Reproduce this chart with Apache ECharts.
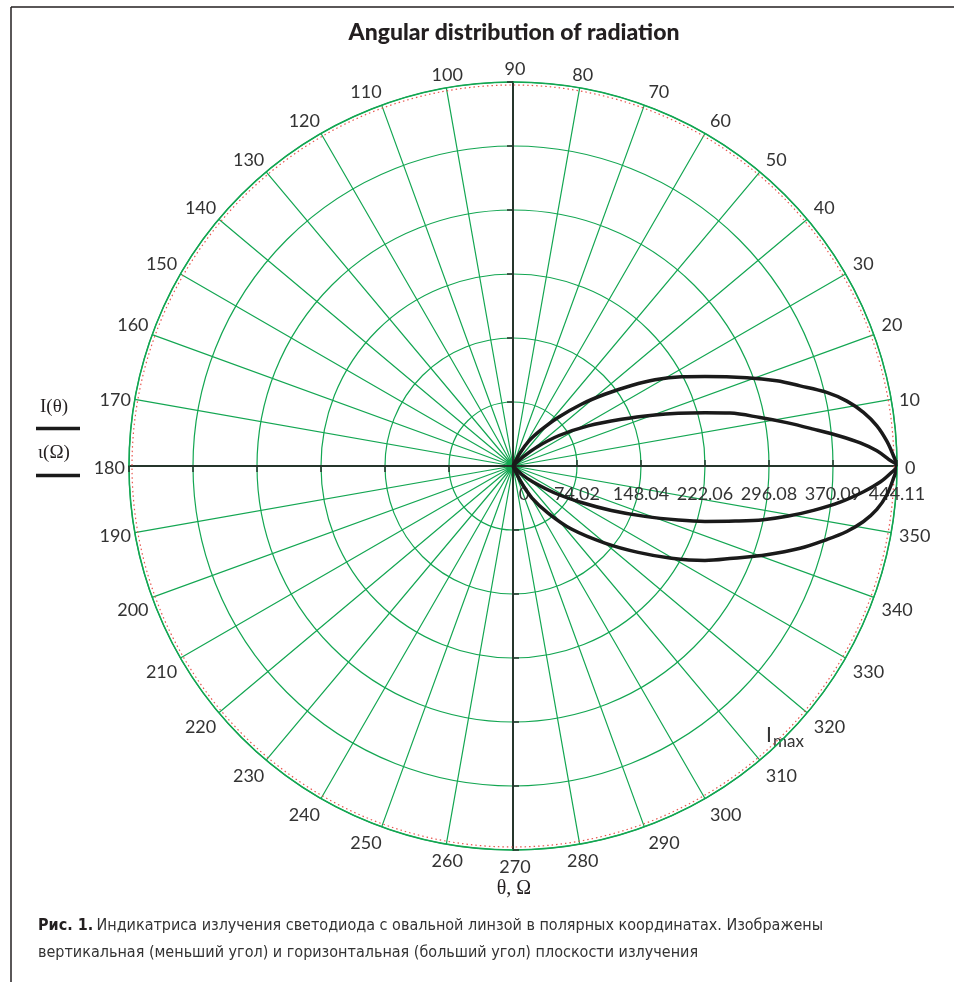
<!DOCTYPE html>
<html>
<head>
<meta charset="utf-8">
<script src="https://cdn.jsdelivr.net/npm/echarts@6/dist/echarts.min.js"></script>
<style>
  html, body { margin: 0; padding: 0; background: #ffffff; }
  #chart { width: 954px; height: 982px; }
</style>
</head>
<body>
<div id="chart"></div>
<script>
// Radial scale labels (intensity) and angular labels (degrees)
const radiusTickLabels = ['0', '74.02', '148.04', '222.06', '296.08', '370.09', '444.11'];
const angleTickLabels = ['0', '10', '20', '30', '40', '50', '60', '70', '80', '90',
  '100', '110', '120', '130', '140', '150', '160', '170', '180', '190',
  '200', '210', '220', '230', '240', '250', '260', '270', '280', '290',
  '300', '310', '320', '330', '340', '350'];

// Horizontal plane of emission (wider lobe): angle in degrees, intensity
const horizAngles = [-64.5, -63.4, -59.3, -53.3, -47.2, -40.0, -34.6, -30.2, -26.2, -22.7,
  -19.3, -16.0, -13.2, -11.1, -9.0, -6.8, -4.4, -1.8, 0, 1.5, 3.8, 6.3, 8.7, 11.0, 13.2,
  15.6, 17.9, 20.7, 25.0, 27.9, 31.3, 34.2, 38.0, 42.1, 47.1, 52.1, 57.4, 61.7, 62.5];
const horizValues = [0, 20.7, 43.1, 67.9, 99.4, 138.7, 175.9, 212.1, 247.4, 276.2,
  310.8, 345.4, 372.7, 393.4, 410.4, 423.8, 433.7, 440.4, 444.11, 440.3, 433.3, 423.4, 410.0, 393.4, 372.7,
  344.7, 320.5, 289.0, 245.0, 220.5, 192.1, 165.7, 134.8, 106.6, 76.6, 52.8, 34.4, 17.1, 0];

// Vertical plane of emission (narrower lobe)
const vertAngles = [-44.5, -43.4, -38.7, -32.9, -28.1, -24.3, -20.9, -18.1, -16.1, -13.9,
  -12.1, -10.3, -8.4, -6.3, -4.2, -2.5, -1.1, 0, 1.0, 2.4, 3.8, 5.2, 7.0, 9.0, 11.1, 13.7,
  15.5, 17.7, 19.8, 23.3, 28.1, 33.5, 38.4, 42.0, 43.0];
const vertValues = [0, 14.3, 29.7, 57.5, 89.7, 124.9, 163.3, 201.1, 231.1, 264.9,
  296.1, 323.7, 351.3, 380.7, 406.5, 425.1, 436.8, 444.11, 434.5, 421.2, 402.5, 380.0, 350.0, 320.5, 291.2, 258.3,
  230.5, 200.6, 174.4, 136.6, 98.5, 63.9, 35.5, 15.6, 0];

const GREEN = '#13a652';
const AXIS_DARK = '#25352b';
const TEXT = '#333333';
const CENTER = [513, 466];
const LABEL_CENTER = [515, 468];
const R = 384;
const R_MAX = 444.108;
const R_STEP = 74.018;

const chart = echarts.init(document.getElementById('chart'), null, { renderer: 'canvas' });

const polar = [];
const angleAxis = [];
const radiusAxis = [];

// Main grid: circles, spokes and the radial scale
polar.push({ center: CENTER, radius: R });
angleAxis.push({
  polarIndex: 0, type: 'value', startAngle: 0, clockwise: false,
  min: 0, max: 360, interval: 10,
  axisLine: { show: true, lineStyle: { color: GREEN, width: 1.5 } },
  axisTick: { show: false },
  splitLine: { show: true, lineStyle: { color: GREEN, width: 1.2 } },
  axisLabel: { show: false }
});
radiusAxis.push({
  polarIndex: 0, type: 'value', min: 0, max: R_MAX, interval: R_STEP,
  axisLine: { show: true, lineStyle: { color: AXIS_DARK, width: 2 } },
  axisTick: { show: true, length: 6, lineStyle: { color: AXIS_DARK, width: 1.5 } },
  splitLine: { show: true, lineStyle: { color: GREEN, width: 1.2 } },
  axisLabel: {
    show: true, margin: -19, verticalAlign: 'top', fontFamily: 'Lato', fontSize: 18, color: TEXT,
    formatter: (v, i) => (i === 0 ? '{z|0}' : (radiusTickLabels[i] || '')),
    rich: { z: { fontFamily: 'Lato', fontSize: 18, color: TEXT, padding: [0, 0, 0, 22] } }
  }
});

// Dark diameters with ticks crossing on both sides, along 0/90/180/270 degrees
const dirs = [0, 90, 180, 270];
dirs.forEach(a => {
  [false, true].forEach(inside => {
    if (a === 0 && !inside) return; // drawn by the main axis
    const idx = polar.length;
    polar.push({ center: CENTER, radius: R });
    angleAxis.push({
      polarIndex: idx, type: 'value', startAngle: a, clockwise: false,
      min: 0, max: 360, show: false
    });
    radiusAxis.push({
      polarIndex: idx, type: 'value', min: 0, max: R_MAX, interval: R_STEP,
      axisLine: { show: true, lineStyle: { color: AXIS_DARK, width: 2 } },
      axisTick: { show: true, inside: inside, length: 6, lineStyle: { color: AXIS_DARK, width: 1.5 } },
      splitLine: { show: false },
      axisLabel: { show: false }
    });
  });
});

// Degree labels around the rim
const lblIdx = polar.length;
polar.push({ center: LABEL_CENTER, radius: R });
angleAxis.push({
  polarIndex: lblIdx, type: 'value', startAngle: 0, clockwise: false,
  min: 0, max: 360, interval: 10,
  axisLine: { show: false }, axisTick: { show: false }, splitLine: { show: false },
  axisLabel: {
    show: true, margin: 6,
    fontFamily: 'Lato', fontSize: 18, color: TEXT,
    formatter: v => angleTickLabels[Math.round(v / 10)] || ''
  }
});
radiusAxis.push({ polarIndex: lblIdx, type: 'value', min: 0, max: R_MAX, show: false });

// Thin red dotted rim just inside the outer circle
const rimIdx = polar.length;
polar.push({ center: CENTER, radius: R - 3 });
angleAxis.push({
  polarIndex: rimIdx, type: 'value', startAngle: 0, clockwise: false, min: 0, max: 360,
  axisLine: { show: true, lineStyle: { color: '#e8554e', width: 1.2, type: [1.5, 3] } },
  axisTick: { show: false }, axisLabel: { show: false }, splitLine: { show: false }
});
radiusAxis.push({ polarIndex: rimIdx, type: 'value', min: 0, max: R_MAX, show: false });

const toPolar = (vals, angs) => vals.map((v, i) => [v, angs[i]]);

const option = {
  backgroundColor: '#ffffff',
  animation: false,
  polar, angleAxis, radiusAxis,
  series: [
    {
      name: 'I(θ)', type: 'line', coordinateSystem: 'polar', polarIndex: 0,
      data: toPolar(horizValues, horizAngles), symbol: 'none', smooth: 0.35,
      lineStyle: { color: '#1a1a1a', width: 3.5 }, z: 10
    },
    {
      name: 'ι(Ω)', type: 'line', coordinateSystem: 'polar', polarIndex: 0,
      data: toPolar(vertValues, vertAngles), symbol: 'none', smooth: 0.35,
      lineStyle: { color: '#1a1a1a', width: 3.5 }, z: 10
    }
  ],
  graphic: [
    // frame
    { type: 'line', shape: { x1: 11, y1: 7, x2: 11, y2: 982 }, style: { stroke: '#231f20', lineWidth: 1.5 } },
    { type: 'line', shape: { x1: 11, y1: 7, x2: 954, y2: 7 }, style: { stroke: '#231f20', lineWidth: 1.5 } },
    // title
    { type: 'text', x: 514, y: 33, style: {
        text: 'Angular distribution of radiation', textAlign: 'center', textVerticalAlign: 'middle',
        font: '900 23px Lato', fill: '#231f20' } },
    // curve keys on the left
    { type: 'text', x: 40, y: 407, style: {
        text: 'I(θ)', textAlign: 'left', textVerticalAlign: 'middle',
        font: '19px "Liberation Serif"', fill: '#231f20' } },
    { type: 'line', shape: { x1: 36, y1: 428.5, x2: 80, y2: 428.5 }, style: { stroke: '#1a1a1a', lineWidth: 3.5 } },
    { type: 'text', x: 38, y: 453, style: {
        text: 'ι(Ω)', textAlign: 'left', textVerticalAlign: 'middle',
        font: '19px "Liberation Serif"', fill: '#231f20' } },
    { type: 'line', shape: { x1: 36, y1: 475.5, x2: 80, y2: 475.5 }, style: { stroke: '#1a1a1a', lineWidth: 3.5 } },
    // I max marker
    { type: 'text', x: 766, y: 735, style: {
        text: 'I', textAlign: 'left', textVerticalAlign: 'middle',
        font: '21px Lato', fill: TEXT } },
    { type: 'text', x: 773, y: 742, style: {
        text: 'max', textAlign: 'left', textVerticalAlign: 'middle',
        font: '17px Lato', fill: TEXT } },
    // angular axis name
    { type: 'text', x: 514, y: 889, style: {
        text: 'θ, Ω', textAlign: 'center', textVerticalAlign: 'middle',
        font: '20px "Liberation Serif"', fill: '#231f20' } },
    // caption
    { type: 'text', x: 38, y: 926, style: {
        text: '{b|Рис. 1.} {r|Индикатриса излучения светодиода с овальной линзой в полярных координатах. Изображены}',
        textVerticalAlign: 'middle',
        rich: {
          b: { font: 'bold 16px "DejaVu Sans Condensed"', fill: '#231f20' },
          r: { font: '16px "DejaVu Sans Condensed"', fill: TEXT }
        } } },
    { type: 'text', x: 38, y: 953, style: {
        text: 'вертикальная (меньший угол) и горизонтальная (больший угол) плоскости излучения',
        textVerticalAlign: 'middle',
        font: '16px "DejaVu Sans Condensed"', fill: TEXT } }
  ]
};

chart.setOption(option);
</script>
</body>
</html>
